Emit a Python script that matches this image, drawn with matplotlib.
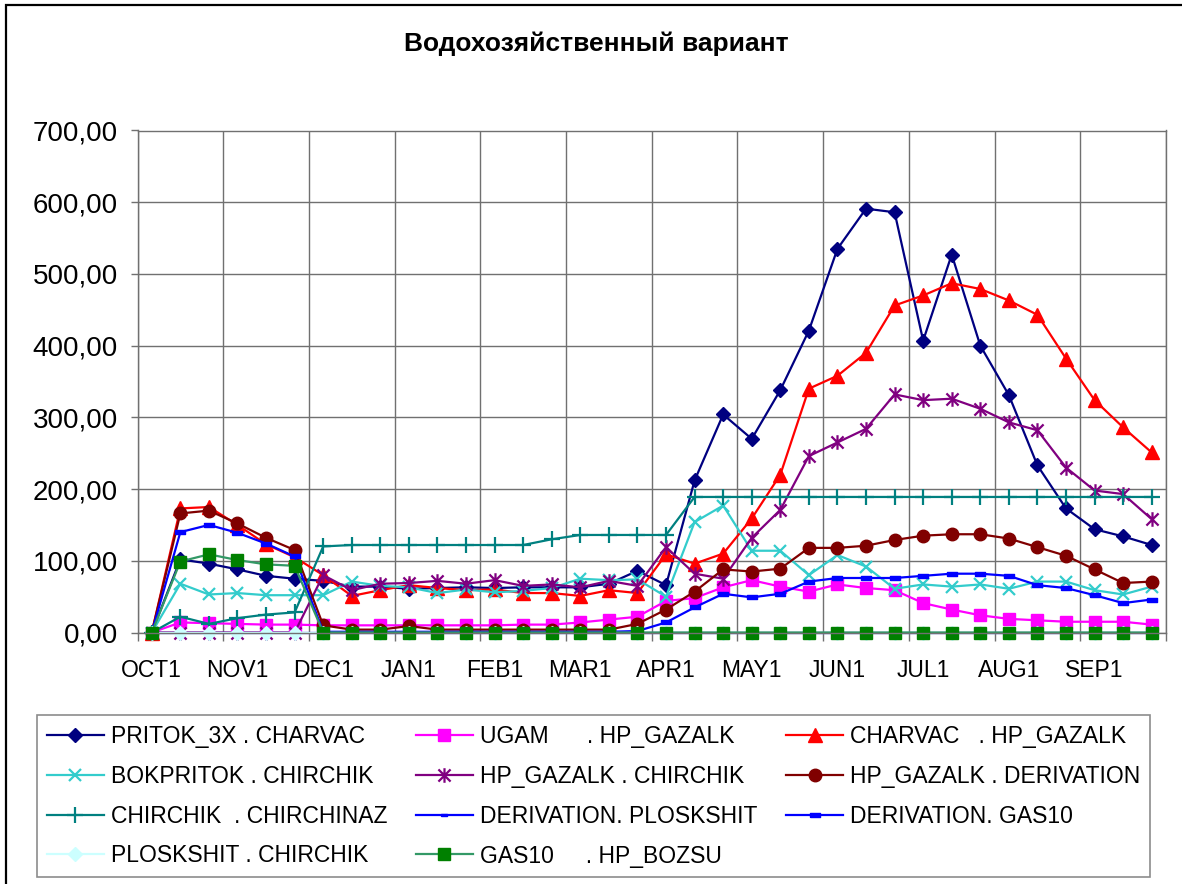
import numpy as np
import matplotlib
matplotlib.use("Agg")
import matplotlib.pyplot as plt
from matplotlib.path import Path
from matplotlib.patches import Rectangle
from matplotlib.ticker import FuncFormatter

plt.rcParams['font.family'] = ['Liberation Sans', 'DejaVu Sans']

# 36 ten-day periods, labels on the first decade of each month
month_labels = ['OCT1', 'NOV1', 'DEC1', 'JAN1', 'FEB1', 'MAR1',
                'APR1', 'MAY1', 'JUN1', 'JUL1', 'AUG1', 'SEP1']

pritok_charvac = [0, 102, 96, 88, 79, 75, 72, 64, 64, 61, 62, 63,
                  62, 63, 63, 63, 68, 86, 66, 212, 304, 270, 338, 421,
                  535, 591, 586, 407, 527, 400, 331, 233, 173, 144, 134, 122]
ugam_gazalk = [0, 14, 13, 12, 11, 11, 10, 10, 10, 10, 10, 10,
               10, 11, 11, 14, 18, 22, 44, 48, 63, 73, 64, 57,
               67, 62, 59, 41, 32, 24, 19, 17, 15, 15, 15, 11]
charvac_gazalk = [0, 173, 175, 150, 123, 105, 80, 51, 59, 66, 62, 59,
                  60, 55, 55, 51, 59, 55, 109, 96, 110, 159, 220, 340,
                  358, 390, 456, 470, 487, 479, 463, 443, 382, 324, 286, 251]
bokpritok_chirchik = [0, 68, 53, 55, 52, 52, 52, 71, 65, 63, 55, 60,
                      56, 58, 62, 75, 73, 74, 50, 154, 177, 114, 114, 80,
                      108, 92, 61, 67, 64, 67, 61, 71, 71, 59, 53, 64]
gazalk_chirchik = [0, 0, 0, 0, 0, 0, 80, 59, 68, 69, 72, 68,
                   73, 65, 67, 63, 72, 65, 119, 82, 75, 132, 171, 246,
                   265, 284, 332, 324, 326, 312, 293, 282, 230, 198, 193, 158]
gazalk_derivation = [0, 166, 170, 152, 132, 115, 10, 4, 4, 9, 4, 4,
                     4, 4, 4, 4, 4, 12, 32, 57, 88, 85, 89, 118,
                     118, 121, 129, 135, 137, 137, 131, 119, 107, 88, 69, 71]
chirchik_chirchinaz = [0, 22, 12, 20, 25, 28, 120, 122, 122, 122, 122, 122,
                       122, 122, 130, 136, 136, 136, 136, 189, 189, 189, 189, 189,
                       189, 189, 189, 189, 189, 189, 189, 189, 189, 189, 189, 189]
derivation_ploskshit = [0] * 36
derivation_gas10 = [0, 140, 150, 139, 124, 106, 1, 1, 1, 1, 1, 1,
                    1, 1, 1, 1, 1, 2, 14, 35, 54, 49, 54, 71,
                    76, 76, 76, 79, 82, 82, 79, 66, 62, 52, 41, 46]
ploskshit_chirchik = [0] * 36
gas10_bozsu = [0, 99, 109, 101, 95, 93] + [0] * 30

# Excel-like markers: wide dash and an "x with a bar" star
dash = [(-1, -0.35), (1, -0.35), (1, 0.35), (-1, 0.35), (-1, -0.35)]
star = Path([(-1, -1), (1, 1), (-1, 1), (1, -1), (0, -1.2), (0, 1.2)],
            [Path.MOVETO, Path.LINETO, Path.MOVETO, Path.LINETO, Path.MOVETO, Path.LINETO])

series = [
    ('PRITOK_3X . CHARVAC', pritok_charvac, '#000080', '#000080', 'D', 6.8),
    ('UGAM      . HP_GAZALK', ugam_gazalk, '#FF00FF', '#FF00FF', 's', 8.5),
    ('CHARVAC   . HP_GAZALK', charvac_gazalk, '#FF0000', '#FF0000', '^', 9.5),
    ('BOKPRITOK . CHIRCHIK', bokpritok_chirchik, '#33CCCC', '#33CCCC', 'x', 9),
    ('HP_GAZALK . CHIRCHIK', gazalk_chirchik, '#800080', '#800080', star, 10.5),
    ('HP_GAZALK . DERIVATION', gazalk_derivation, '#800000', '#800000', 'o', 9),
    ('CHIRCHIK  . CHIRCHINAZ', chirchik_chirchinaz, '#008080', '#008080', '+', 11),
    ('DERIVATION. PLOSKSHIT', derivation_ploskshit, '#0000FF', '#0000FF', dash, 5),
    ('DERIVATION. GAS10', derivation_gas10, '#0000FF', '#0000FF', dash, 7),
    ('PLOSKSHIT . CHIRCHIK', ploskshit_chirchik, '#CCFFFF', '#CCFFFF', 'D', 6.8),
    ('GAS10     . HP_BOZSU', gas10_bozsu, '#339966', '#008000', 's', 8.5),
]

fig = plt.figure(figsize=(11.82, 8.84), dpi=100)
ax = fig.add_axes([137.5 / 1182, 1 - 632.5 / 884, (1166 - 137.5) / 1182, (632.5 - 130.5) / 884])

x = np.arange(36)
handles = []
for name, vals, lc, mc, mk, ms in series:
    kw = dict(color=lc, lw=1.6, marker=mk, markersize=ms,
              markerfacecolor=mc, markeredgecolor=mc, label=name, clip_on=False)
    if mk is star or mk in ('x', '+'):
        kw['markeredgewidth'] = 1.6
    h, = ax.plot(x, vals, **kw)
    handles.append(h)

ax.set_xlim(-0.5, 35.5)
ax.set_ylim(0, 700)
ax.set_yticks(np.arange(0, 701, 100))
ax.yaxis.set_major_formatter(FuncFormatter(lambda v, p: f'{v:.2f}'.replace('.', ',')))
ax.tick_params(axis='y', direction='out', length=5, width=1, color='#707070',
               labelsize=20, pad=9)

# category boundaries carry the ticks and grid, month labels sit on the categories
ax.set_xticks(np.arange(-0.5, 36, 3))
ax.set_xticklabels([])
ax.set_xticks(np.arange(0, 36, 3), minor=True)
ax.set_xticklabels(month_labels, minor=True)
ax.tick_params(axis='x', which='major', direction='out', length=5.5, width=1, color='#707070')
ax.tick_params(axis='x', which='minor', length=0, labelsize=16.5, pad=19)

ax.grid(True, which='major', color='#707070', lw=1)
ax.set_axisbelow(True)
for s in ax.spines.values():
    s.set_color('#707070')
    s.set_linewidth(1)

fig.text(596 / 1182, 1 - 44 / 884, 'Водохозяйственный вариант',
         ha='center', va='center', fontsize=19, fontweight='bold')

# legend reads row by row: matplotlib fills columns, so reorder (4, 4, 3 per column)
order = [0, 3, 6, 9, 1, 4, 7, 10, 2, 5, 8]
leg = fig.legend(handles=[handles[i] for i in order], ncol=3, loc='upper left',
                 bbox_to_anchor=(37 / 1182, 1 - 715 / 884, (1150 - 37) / 1182, 0),
                 mode='expand', fontsize=16.5, frameon=True, fancybox=False,
                 edgecolor='#707070', handlelength=2.5, handletextpad=0.3,
                 labelspacing=0.74, borderpad=0.42, borderaxespad=0)
leg.get_frame().set_linewidth(1.2)

# outer chart frame
fig.patches.append(Rectangle((6 / 1182, -0.1), 1.2, 1 - 5 / 884 + 0.1,
                             transform=fig.transFigure, fill=False,
                             edgecolor='black', lw=1.6))

fig.savefig('out.png', dpi=100)
